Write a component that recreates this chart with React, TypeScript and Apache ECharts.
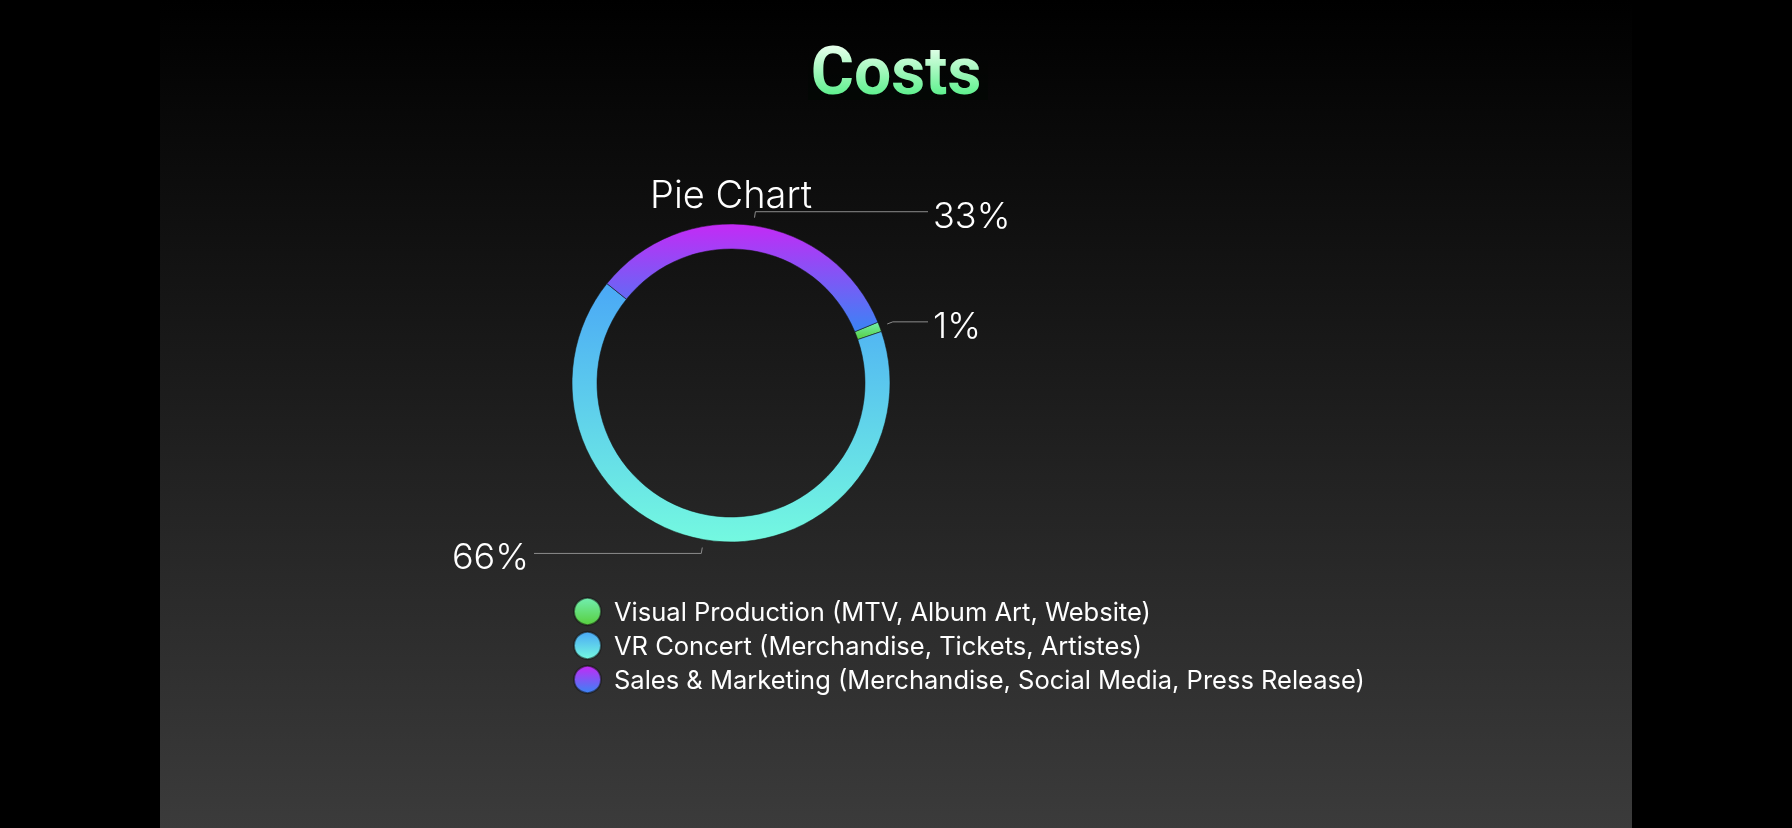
import React, { useEffect, useRef } from "react";
import * as echarts from "echarts";

// ---- data ----
const CATEGORIES = [
  "Visual Production (MTV, Album Art, Website)",
  "VR Concert (Merchandise, Tickets, Artistes)",
  "Sales & Marketing (Merchandise, Social Media, Press Release)",
];
const SHARES = [1, 66, 33];
const CHART_TITLE = "Costs";
const PIE_TITLE = "Pie Chart";

// ---- styles ----
const TOP_COLORS = ["#72eeb0", "#4aa8f6", "#c42af6"];
const BOTTOM_COLORS = ["#58cf3e", "#74f9e0", "#3a84f5"];
const TITLE_TOP = "#e4ffea";
const TITLE_BOTTOM = "#5cf08c";

const PIE_CX = 571;
const PIE_CY = 383;
const R_IN = 134;
const R_OUT = 159;
const LINE_GAP = 8;
const LABEL_REACH = 197;
const LABEL_PAD = 5;

function vGrad(top: string, bottom: string) {
  return {
    type: "linear",
    x: 0,
    y: 0,
    x2: 0,
    y2: 1,
    colorStops: [
      { offset: 0, color: top },
      { offset: 1, color: bottom },
    ],
  };
}

export default function App() {
  const ref = useRef<HTMLDivElement>(null);

  useEffect(() => {
    document.body.style.margin = "0";
    if (!ref.current) return;
    const chart = echarts.init(ref.current, undefined, { renderer: "svg" });

    const data = CATEGORIES.map((name, i) => ({
      name,
      value: SHARES[i],
      itemStyle: { color: vGrad(TOP_COLORS[i], BOTTOM_COLORS[i]) },
    }));

    chart.setOption({
      animation: false,
      backgroundColor: "transparent",
      title: [
        {
          text: CHART_TITLE,
          left: "center",
          top: 38,
          padding: 0,
          textStyle: {
            fontFamily: "Roboto",
            fontWeight: "bold",
            fontSize: 66,
            color: "#ffffff",
          },
        },
        {
          text: PIE_TITLE,
          left: PIE_CX,
          textAlign: "center",
          top: 175,
          padding: 0,
          textStyle: {
            fontFamily: "Inter",
            fontWeight: 300,
            fontSize: 38,
            color: "#ffffff",
          },
        },
      ],
      legend: {
        orient: "vertical",
        left: PIE_CX - R_OUT + 1,
        top: 597,
        padding: 0,
        itemWidth: 27,
        itemHeight: 27,
        itemGap: 5,
        icon: "circle",
        selectedMode: false,
        data: CATEGORIES,
        textStyle: {
          fontFamily: "Inter",
          fontSize: 25.5,
          color: "#ffffff",
          lineHeight: 27,
          padding: [0, 0, 0, 8],
        },
      },
      series: [
        {
          type: "pie",
          center: [PIE_CX, PIE_CY],
          radius: [R_IN, R_OUT],
          startAngle: 22.5,
          clockwise: true,
          avoidLabelOverlap: false,
          percentPrecision: 0,
          silent: true,
          itemStyle: {
            borderColor: "rgba(20,20,20,0.55)",
            borderWidth: 1,
          },
          label: {
            show: true,
            position: "outside",
            formatter: "{d}%",
            fontFamily: "Inter",
            fontWeight: 300,
            fontSize: 36,
            color: "#ffffff",
          },
          labelLine: {
            show: true,
            length: 6,
            length2: 20,
            smooth: false,
            lineStyle: { color: "#8c8c8c", width: 1 },
          },
          labelLayout: (params: any) => {
            const pts = params.labelLinePoints;
            if (!pts || pts.length < 3) return {};
            const dx0 = pts[0][0] - PIE_CX;
            const dy0 = pts[0][1] - PIE_CY;
            const len = Math.sqrt(dx0 * dx0 + dy0 * dy0) || 1;
            const ux = dx0 / len;
            const uy = dy0 / len;
            const p0 = [pts[0][0] + ux * LINE_GAP, pts[0][1] + uy * LINE_GAP];
            const p1 = [pts[1][0] + ux * LINE_GAP, pts[1][1] + uy * LINE_GAP];
            const right = pts[2][0] > PIE_CX;
            const endX = PIE_CX + (right ? 1 : -1) * LABEL_REACH;
            return {
              x: endX + (right ? LABEL_PAD : -LABEL_PAD),
              y: p1[1] + 3,
              align: right ? "left" : "right",
              verticalAlign: "middle",
              labelLinePoints: [p0, p1, [endX, p1[1]]],
            };
          },
          emphasis: { disabled: true },
          data,
        },
      ],
    });

    return () => chart.dispose();
  }, []);

  return (
    <div
      style={{
        position: "fixed",
        left: 0,
        top: 0,
        width: 1792,
        height: 828,
        background: "#000000",
        overflow: "hidden",
      }}
    >
      <div
        style={{
          position: "absolute",
          left: 160,
          top: 0,
          width: 1472,
          height: 828,
          background: "linear-gradient(180deg, #000000 0%, #3b3b3b 100%)",
          isolation: "isolate",
        }}
      >
        <div ref={ref} style={{ width: 1472, height: 828 }} />
        {/* tint for the title text: multiplies the white title into a vertical gradient */}
        <div
          style={{
            position: "absolute",
            left: 648,
            top: 44,
            width: 180,
            height: 56,
            pointerEvents: "none",
            mixBlendMode: "multiply",
            background: `linear-gradient(180deg, ${TITLE_TOP} 0%, ${TITLE_TOP} 6%, ${TITLE_BOTTOM} 92%, ${TITLE_BOTTOM} 100%)`,
          }}
        />
      </div>
    </div>
  );
}
